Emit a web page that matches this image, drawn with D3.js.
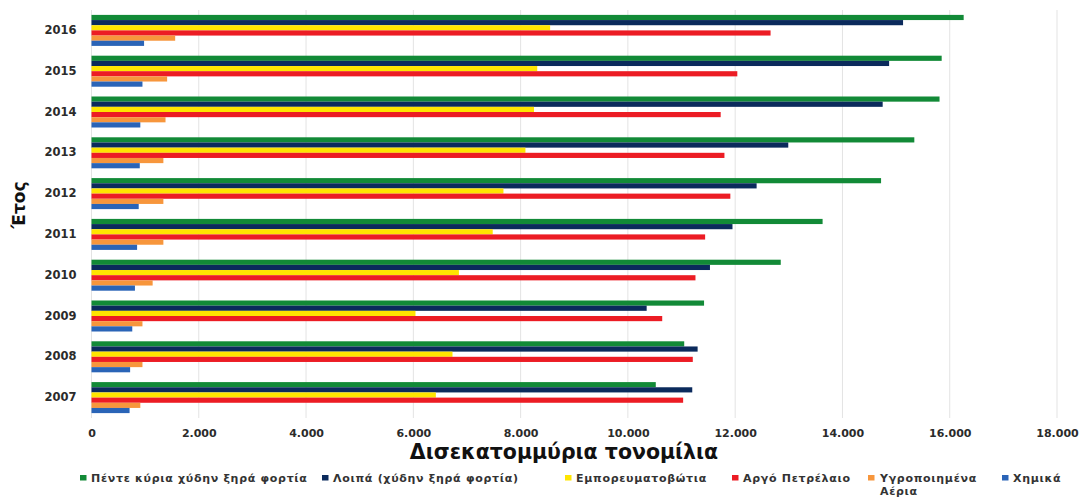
<!DOCTYPE html>
<html>
<head>
<meta charset="utf-8">
<script src="https://cdn.jsdelivr.net/npm/d3@7"></script>
<style>
  html, body { margin: 0; padding: 0; background: #fff; }
  svg { display: block; font-family: "DejaVu Sans", Verdana, sans-serif; }
</style>
</head>
<body>
<svg id="chart" width="1088" height="497"></svg>
<script>
// Years, top to bottom
const years = ["2016", "2015", "2014", "2013", "2012", "2011", "2010", "2009", "2008", "2007"];

// Series names (legend order = bar order within each year group)
const seriesNames = [
  "Πέντε κύρια χύδην ξηρά φορτία",
  "Λοιπά (χύδην ξηρά φορτία)",
  "Εμπορευματοβώτια",
  "Αργό Πετρέλαιο",
  "Υγροποιημένα Αέρια",
  "Χημικά"
];

// Values in billions of tonne-miles, ordered like `years`
const fiveMainBulk  = [16260, 15850, 15810, 15340, 14720, 13630, 12850, 11420, 11050, 10520];
const otherBulk     = [15130, 14870, 14750, 12990, 12400, 11950, 11530, 10350, 11300, 11200];
const containers    = [ 8550,  8310,  8250,  8090,  7680,  7480,  6850,  6040,  6730,  6420];
const crudeOil      = [12660, 12040, 11730, 11800, 11910, 11440, 11260, 10640, 11210, 11030];
const liquefiedGas  = [ 1560,  1410,  1380,  1340,  1340,  1340,  1140,   950,   950,   910];
const chemicals     = [  980,   950,   910,   900,   880,   850,   810,   760,   720,   710];

const seriesValues = [fiveMainBulk, otherBulk, containers, crudeOil, liquefiedGas, chemicals];
const seriesColors = ["#128a37", "#0b2a5c", "#ffe500", "#ec1c24", "#f7963c", "#2a64b7"];

const xTicks = [0, 2000, 4000, 6000, 8000, 10000, 12000, 14000, 16000, 18000];

const svg = d3.select("#chart");

const plot = { left: 91.5, right: 1057, top: 10, bottom: 418 };

const x = d3.scaleLinear().domain([0, 18000]).range([plot.left, plot.right]);

const y = d3.scaleBand()
  .domain(years)
  .range([plot.top, plot.bottom])
  .paddingInner(0.24)
  .paddingOuter(0.12);

const ySub = d3.scaleBand()
  .domain(d3.range(seriesNames.length))
  .range([0, y.bandwidth()]);

// Greek-style thousands separator
const fmt = d3.formatLocale({ decimal: ",", thousands: ".", grouping: [3], currency: ["", "€"] }).format(",d");

// Vertical grid lines
svg.append("g")
  .selectAll("line")
  .data(xTicks)
  .join("line")
  .attr("x1", d => x(d)).attr("x2", d => x(d))
  .attr("y1", plot.top).attr("y2", plot.bottom)
  .attr("stroke", "#e3e3e3")
  .attr("stroke-width", 1);

// Bars
const rows = [];
years.forEach((yr, i) => {
  seriesValues.forEach((vals, s) => rows.push({ year: yr, s, v: vals[i] }));
});

svg.append("g")
  .selectAll("rect")
  .data(rows)
  .join("rect")
  .attr("x", x(0))
  .attr("y", d => y(d.year) + ySub(d.s))
  .attr("width", d => x(d.v) - x(0))
  .attr("height", ySub.bandwidth())
  .attr("fill", d => seriesColors[d.s]);

// X axis (labels only)
const xAxis = svg.append("g")
  .attr("transform", `translate(0,${plot.bottom})`)
  .call(d3.axisBottom(x).tickValues(xTicks).tickFormat(fmt).tickSize(0).tickPadding(11));
xAxis.select(".domain").remove();
xAxis.selectAll("text")
  .attr("font-family", "DejaVu Sans, sans-serif")
  .attr("font-size", 11)
  .attr("font-weight", "bold")
  .attr("fill", "#2b2b2b");

// Y axis (year labels)
const yAxis = svg.append("g")
  .attr("transform", `translate(${plot.left},0)`)
  .call(d3.axisLeft(y).tickSize(0).tickPadding(15));
yAxis.select(".domain").remove();
yAxis.selectAll("text")
  .attr("font-family", "DejaVu Sans, sans-serif")
  .attr("font-size", 11.5)
  .attr("font-weight", "bold")
  .attr("fill", "#2b2b2b");

// Axis titles
svg.append("text")
  .attr("x", 564)
  .attr("y", 459)
  .attr("text-anchor", "middle")
  .attr("font-size", 20.5)
  .attr("font-weight", "bold")
  .attr("fill", "#111")
  .text("Δισεκατομμύρια τονομίλια");

svg.append("text")
  .attr("transform", "translate(25,205) rotate(-90)")
  .attr("text-anchor", "middle")
  .attr("font-size", 17)
  .attr("font-weight", "bold")
  .attr("fill", "#111")
  .text("Έτος");

// Legend
const legendX = [80, 322, 565, 732, 868, 1002];
const legend = svg.append("g")
  .attr("font-size", 11)
  .attr("font-weight", "bold")
  .attr("letter-spacing", 0.7);
seriesNames.forEach((name, i) => {
  const g = legend.append("g").attr("transform", `translate(${legendX[i]},478)`);
  g.append("rect").attr("x", 0).attr("y", -3).attr("width", 6.5).attr("height", 5.5).attr("fill", seriesColors[i]);
  if (i === 4) {
    const t = g.append("text").attr("x", 12).attr("y", 3.8).attr("fill", "#333");
    t.append("tspan").attr("x", 12).text("Υγροποιημένα");
    t.append("tspan").attr("x", 12).attr("dy", 13.5).text("Αέρια");
  } else {
    g.append("text").attr("x", 11).attr("y", 3.8).attr("fill", "#333").text(name);
  }
});
</script>
</body>
</html>
